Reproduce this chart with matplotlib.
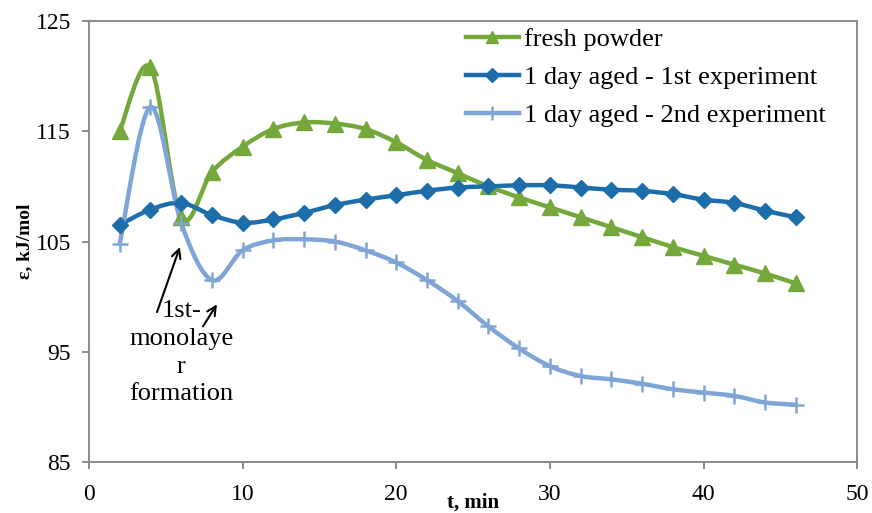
import numpy as np
import matplotlib
matplotlib.use('Agg')
import matplotlib.pyplot as plt
from matplotlib.path import Path
from matplotlib.patches import PathPatch
from matplotlib.lines import Line2D

plt.rcParams['font.family'] = ['Liberation Serif', 'DejaVu Serif']

# data
t_min = [2, 4, 6, 8, 10, 12, 14, 16, 18, 20, 22, 24,
         26, 28, 30, 32, 34, 36, 38, 40, 42, 44, 46]
fresh_powder = [115.0, 120.8, 107.2, 111.3, 113.6, 115.2, 115.8, 115.7, 115.2, 114.0, 112.4, 111.2,
                110.0, 109.0, 108.1, 107.2, 106.3, 105.4, 104.5, 103.7, 102.9, 102.1, 101.2]
aged_1st = [106.5, 107.9, 108.5, 107.4, 106.7, 107.0, 107.6, 108.3, 108.8, 109.2, 109.6, 109.9,
            110.0, 110.1, 110.1, 109.9, 109.7, 109.6, 109.3, 108.8, 108.5, 107.8, 107.2]
aged_2nd = [104.8, 117.2, 106.7, 101.5, 104.2, 105.1, 105.2, 105.0, 104.2, 103.1, 101.5, 99.6,
            97.3, 95.3, 93.7, 92.8, 92.5, 92.1, 91.6, 91.3, 91.0, 90.4, 90.2]

series_names = ['fresh powder', '1 day aged - 1st experiment', '1 day aged - 2nd experiment']
note_text = '1st-\nmonolaye\nr\nformation'

GREEN = '#74A83B'
DARK_BLUE = '#1D6DAA'
LIGHT_BLUE = '#7EA5D5'
GREY = '#8A8A8A'


def smooth_path(x, y):
    # excel-like smoothed line: catmull-rom turned into bezier segments
    pts = np.column_stack([x, y]).astype(float)
    n = len(pts)
    verts = [pts[0]]
    codes = [Path.MOVETO]
    for i in range(n - 1):
        p0 = pts[max(i - 1, 0)]
        p1 = pts[i]
        p2 = pts[i + 1]
        p3 = pts[min(i + 2, n - 1)]
        verts += [p1 + (p2 - p0) / 6, p2 - (p3 - p1) / 6, p2]
        codes += [Path.CURVE4] * 3
    return Path(verts, codes)


fig = plt.figure(figsize=(8.72, 5.13), dpi=100)
ax = fig.add_axes([0.102, 0.0994, 0.881, 0.8596])

styles = [
    (fresh_powder, GREEN, dict(marker='^', markersize=11)),
    (aged_1st, DARK_BLUE, dict(marker='D', markersize=8.5)),
    (aged_2nd, LIGHT_BLUE, dict(marker='+', markersize=12, markeredgewidth=1.8)),
]

handles = []
for (vals, col, mk), name in zip(styles, series_names):
    ax.add_patch(PathPatch(smooth_path(t_min, vals), facecolor='none',
                           edgecolor=col, lw=3.2, capstyle='round', joinstyle='round'))
    ax.plot(t_min, vals, linestyle='none', color=col, markeredgecolor=col, **mk)
    handles.append(Line2D([], [], color=col, lw=3.2, markeredgecolor=col, **mk))

ax.set_xlim(0, 50)
ax.set_ylim(85, 125)
ax.set_xticks([0, 10, 20, 30, 40, 50])
ax.set_yticks([85, 95, 105, 115, 125])

for s in ax.spines.values():
    s.set_color(GREY)
    s.set_linewidth(1.4)
ax.tick_params(axis='both', direction='out', length=5, width=1.4, color=GREY,
               labelsize=17)
ax.tick_params(axis='x', pad=11)
ax.tick_params(axis='y', pad=8)

ax.set_xlabel('t, min', fontsize=15, fontweight='bold')
ax.xaxis.set_label_coords(0.5, -0.07)
ax.set_ylabel('ε, kJ/mol', fontsize=14, fontweight='bold')
ax.yaxis.set_label_coords(-0.073, 0.5)

ax.text(6.0, 94.9, note_text, fontsize=19, ha='center', va='center',
        multialignment='center', linespacing=1.33)
arrow = dict(arrowstyle='->', lw=1.5, color='black', shrinkA=0, shrinkB=0,
             mutation_scale=16)
ax.annotate('', xy=(5.92, 104.5), xytext=(4.43, 98.6), arrowprops=arrow)
ax.annotate('', xy=(8.33, 99.3), xytext=(7.42, 97.3), arrowprops=arrow)

fig.legend(handles=handles, labels=series_names, loc='upper left',
           bbox_to_anchor=(466 / 872, 1 - 28 / 513), frameon=False,
           fontsize=19, borderpad=0, borderaxespad=0, handlelength=2.0,
           handletextpad=0.2, labelspacing=0.54, numpoints=1, markerscale=0.8)

fig.savefig('out.png', dpi=100)
